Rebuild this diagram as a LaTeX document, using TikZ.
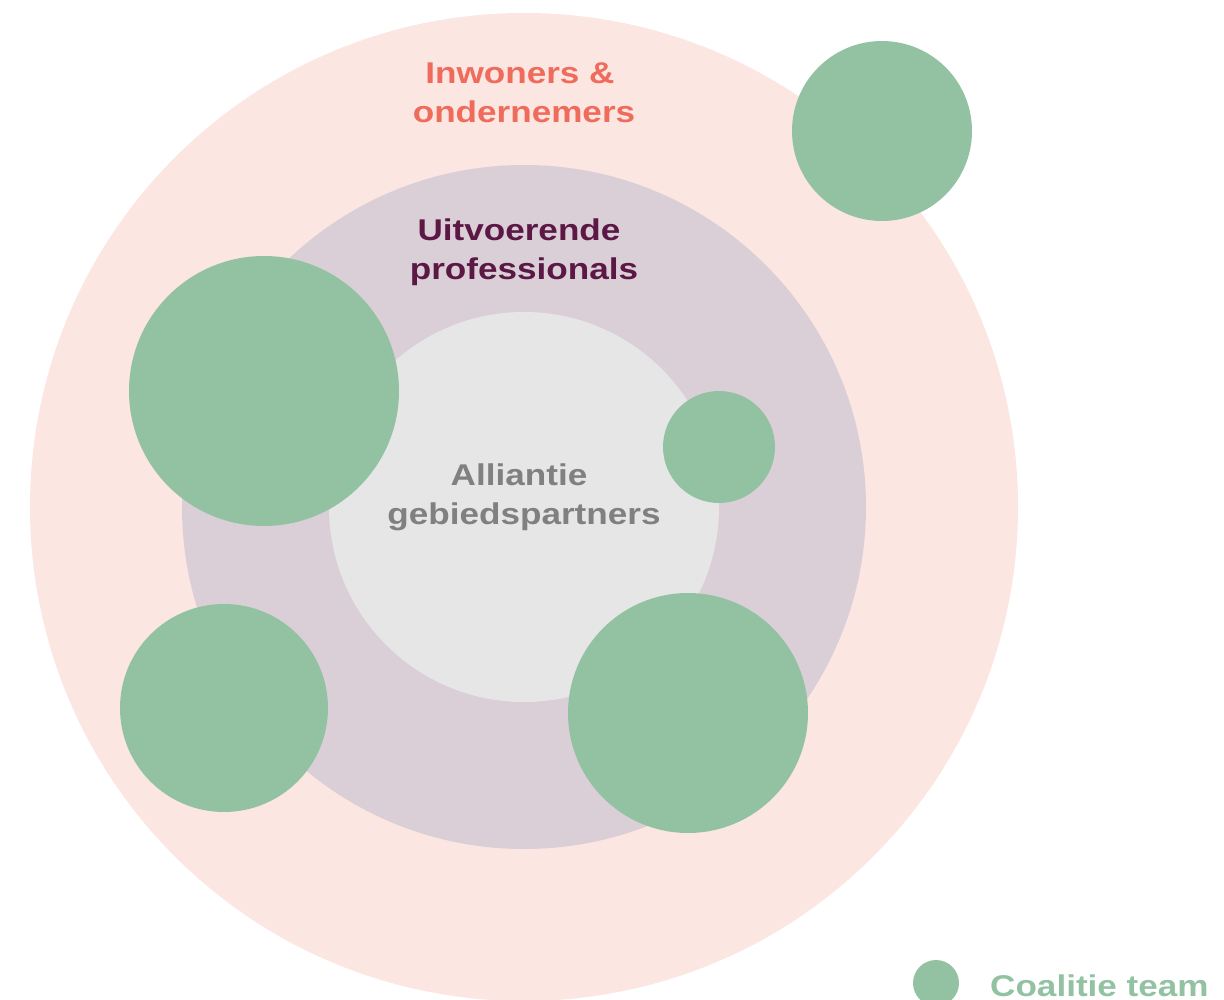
\documentclass[tikz,border=0pt]{standalone}
\usepackage{fontspec}
\setmainfont{Liberation Sans}
\newfontfamily\widefont[FakeStretch=1.17]{Liberation Sans}
\definecolor{outerc}{HTML}{FBE6E1}
\definecolor{midc}{HTML}{DBCFD7}
\definecolor{innerc}{HTML}{E6E6E6}
\definecolor{greenc}{HTML}{93C2A3}
\definecolor{salmon}{HTML}{EF6B5B}
\definecolor{plum}{HTML}{5B1845}
\definecolor{greyt}{HTML}{808080}
\tikzset{
  disc/.style={circle, inner sep=0pt, draw=none},
  lbl/.style={font=\widefont\bfseries\fontsize{30}{36}\selectfont, anchor=base, inner sep=0pt},
}
\begin{document}
\begin{tikzpicture}[x=1pt,y=-1pt]
\useasboundingbox (0,0) rectangle (1224,1000);
\node[disc, fill=outerc, minimum size=988pt] (outer) at (524,507) {};
\node[disc, fill=midc, minimum size=684pt] (middle) at (524,507) {};
\node[disc, fill=innerc, minimum size=390pt] (inner) at (524,507) {};
\node[lbl, text=salmon] (t1a) at (520,84) {Inwoners \&};
\node[lbl, text=salmon] (t1b) at (524,123) {ondernemers};
\node[lbl, text=plum] (t2a) at (519,241) {Uitvoerende};
\node[lbl, text=plum] (t2b) at (524,280) {professionals};
\node[lbl, text=greyt] (t3a) at (519,485) {Alliantie};
\node[lbl, text=greyt] (t3b) at (524,524) {gebiedspartners};
\node[disc, fill=greenc, minimum size=180pt] (g1) at (882,131) {};
\node[disc, fill=greenc, minimum size=270pt] (g2) at (264,391) {};
\node[disc, fill=greenc, minimum size=112pt] (g3) at (719,447) {};
\node[disc, fill=greenc, minimum size=208pt] (g4) at (224,708) {};
\node[disc, fill=greenc, minimum size=240pt] (g5) at (688,713) {};
\node[disc, fill=greenc, minimum size=46pt] (leg) at (936,983) {};
\node[lbl, text=greenc, anchor=base west] (legt) at (990,996) {Coalitie team};
\end{tikzpicture}
\end{document}
